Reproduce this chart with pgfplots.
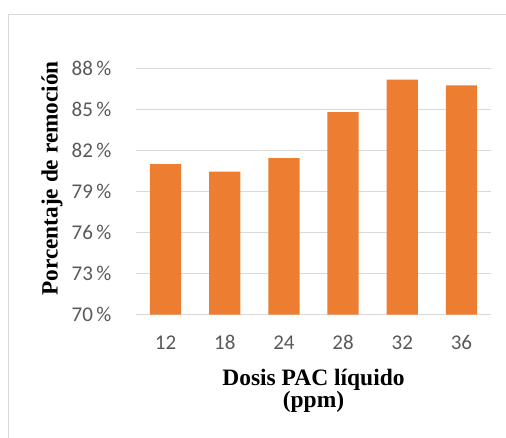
\documentclass[border=0pt]{standalone}
\usepackage{pgfplots}
\pgfplotsset{compat=1.18}
\usepackage{fontspec}
\setmainfont{Carlito}
\newfontfamily\timesf{Liberation Serif}
\definecolor{barorange}{HTML}{ED7D31}
\definecolor{gridgray}{HTML}{D9D9D9}
\definecolor{ticktext}{HTML}{595959}
\definecolor{framegray}{HTML}{D9D9D9}
\begin{document}
\begin{tikzpicture}[x=1pt,y=1pt]
\useasboundingbox (0,0) rectangle (506,438);
\draw[framegray, line width=1.5pt] (8.5,0) -- (8.5,423.5) -- (506,423.5);
\begin{axis}[
  at={(136pt,123.3pt)}, anchor=south west,
  scale only axis, width=355pt, height=246.4pt,
  xmin=-0.5, xmax=5.5, ymin=70, ymax=88,
  axis line style={draw=none},
  ytick={70,73,76,79,82,85,88},
  yticklabels={70\,\%,73\,\%,76\,\%,79\,\%,82\,\%,85\,\%,88\,\%},
  xtick={0,1,2,3,4,5},
  xticklabels={12,18,24,28,32,36},
  major tick length=0pt,
  ymajorgrids, grid style={gridgray, line width=1pt},
  tick label style={font=\fontsize{21}{24}\selectfont, text=ticktext},
  yticklabel style={anchor=east, xshift=-21pt},
  xticklabel style={anchor=center, yshift=-28pt},
  ybar, bar width=31.3pt,
  ylabel={Porcentaje de remoción},
  ylabel style={font=\timesf\bfseries\fontsize{23.3}{26}\selectfont, at={(axis description cs:-0.2366,0.553)}, anchor=center, text=black},
  xlabel={Dosis PAC líquido\\(ppm)},
  xlabel style={font=\timesf\bfseries\fontsize{23.5}{22}\selectfont, align=center, at={(axis description cs:0.5,-0.309)}, anchor=center, text=black},
  clip=false,
]
\addplot[fill=barorange, draw=none] coordinates {(0,81.0) (1,80.45) (2,81.43) (3,84.79) (4,87.17) (5,86.76)};
\end{axis}
\end{tikzpicture}
\end{document}
